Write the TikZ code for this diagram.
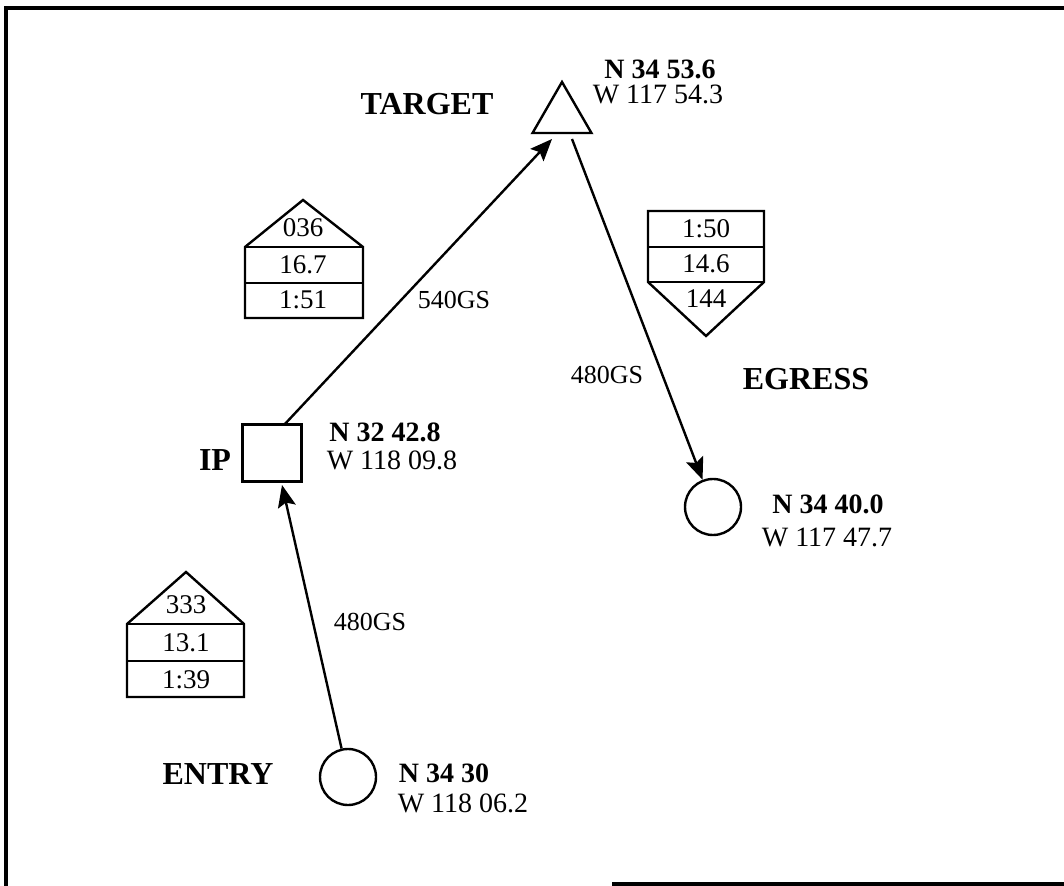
\documentclass[tikz,border=0pt]{standalone}
\usepackage{fontspec}
\setmainfont{Liberation Serif}
\usetikzlibrary{arrows.meta,shapes.geometric}

\begin{document}
\begin{tikzpicture}[x = 0.5pt, y = -0.5pt, line width = 1.2pt,
    lbl/.style = {font = \fontsize{16}{18}\selectfont\bfseries, inner sep = 0pt},
    loc/.style = {font = \fontsize{14}{16}\selectfont, inner sep = 0pt},
    locb/.style = {font = \fontsize{14}{16}\selectfont\bfseries, inner sep = 0pt},
    spd/.style = {font = \fontsize{13}{15}\selectfont, inner sep = 0pt},
    num/.style = {font = \fontsize{13.5}{15}\selectfont, inner sep = 0pt},
    leg/.style = {-{Stealth[length = 11pt, width = 9pt, inset = 2pt]}}]
        \useasboundingbox (0,0) rectangle (1064,886);
        % frame
        \path[draw, line width = 2pt](6,886)to(6,8)to(1064,8);
        \path[draw, line width = 2pt](612,884)to(1064,884);
        % points
        \node[draw, regular polygon, regular polygon sides = 3, minimum size = 34pt, inner sep = 0pt](target)at(562,116){};
        \node[draw, minimum width = 29.5pt, minimum height = 28.5pt, inner sep = 0pt](ip)at(272,453){};
        \node[draw, circle, minimum size = 28pt, inner sep = 0pt](egress)at(713,507){};
        \node[draw, circle, minimum size = 28pt, inner sep = 0pt](entry)at(348,777){};
        \coordinate(tin)at(552,139);
        \coordinate(tout)at(572,139);
        \coordinate(ipin)at(282,485);
        \coordinate(ipout)at(284,425);
        % names
        \node[lbl](tname)at(427,104){TARGET};
        \node[lbl](ipname)at(215,460){IP};
        \node[lbl](ename)at(806,379){EGRESS};
        \node[lbl](sname)at(218,774){ENTRY};
        % positions
        \node[locb](tn)at(660,69){N 34 53.6};
        \node[loc](tw)at(658,94){W 117 54.3};
        \node[locb](ipn)at(385,432){N 32 42.8};
        \node[loc](ipw)at(392,460){W 118 09.8};
        \node[locb](en)at(828,504){N 34 40.0};
        \node[loc](ew)at(827,537){W 117 47.7};
        \node[locb](sn)at(444,773){N 34 30};
        \node[loc](sw)at(463,803){W 118 06.2};
        % legs
        \path[draw, leg](entry)to(ipin);
        \path[draw, leg](ipout)to(tin);
        \path[draw, leg](tout)to(egress);
        \node[spd](gs1)at(370,622){480GS};
        \node[spd](gs2)at(454,300){540GS};
        \node[spd](gs3)at(607,375){480GS};
        % data boxes
        \path[draw](245,318)to(245,247)to(303,200)to(363,247)to(363,318)to cycle;
        \path[draw](245,247)to(363,247);
        \path[draw](245,283)to(363,283);
        \node[num](hdg1)at(303,228){036};
        \node[num](dst1)at(303,265){16.7};
        \node[num](tme1)at(303,300){1:51};
        \path[draw](127,697)to(127,624)to(186,572)to(244,624)to(244,697)to cycle;
        \path[draw](127,624)to(244,624);
        \path[draw](127,661)to(244,661);
        \node[num](hdg2)at(186,605){333};
        \node[num](dst2)at(186,643){13.1};
        \node[num](tme2)at(186,680){1:39};
        \path[draw](648,211)to(764,211)to(764,282)to(706,336)to(648,282)to cycle;
        \path[draw](648,247)to(764,247);
        \path[draw](648,282)to(764,282);
        \node[num](tme3)at(706,229){1:50};
        \node[num](dst3)at(706,264){14.6};
        \node[num](hdg3)at(706,299){144};
    \end{tikzpicture}
\end{document}
